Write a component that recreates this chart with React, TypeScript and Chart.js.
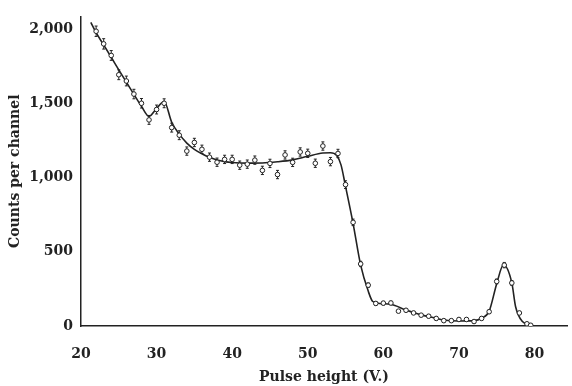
import React, { useEffect, useRef } from 'react';
import { Chart, registerables } from 'chart.js';

Chart.register(...registerables);

// Measured points (pulse height in V, counts per channel, error bar half-height)
const pulseHeights = [22, 23, 24, 25, 26, 27, 28, 29, 30, 31, 32, 33, 34, 35, 36, 37, 38, 39, 40, 41, 42, 43, 44, 45, 46, 47, 48, 49, 50, 51, 52, 53, 54, 55, 56, 57, 58, 59, 60, 61, 62, 63, 64, 65, 66, 67, 68, 69, 70, 71, 72, 73, 74, 75, 76, 77, 78, 79, 79.5];
const counts = [1985, 1900, 1822, 1692, 1650, 1562, 1500, 1388, 1458, 1500, 1336, 1285, 1178, 1236, 1190, 1137, 1103, 1122, 1122, 1083, 1090, 1117, 1048, 1095, 1020, 1152, 1102, 1172, 1163, 1096, 1212, 1107, 1162, 952, 698, 418, 275, 152, 154, 155, 100, 106, 88, 73, 66, 51, 36, 36, 44, 44, 30, 51, 96, 300, 410, 290, 88, 15, 5];
const countErrors = [35, 35, 33, 33, 33, 32, 32, 30, 30, 30, 30, 30, 28, 28, 28, 28, 28, 28, 28, 28, 28, 28, 28, 28, 28, 28, 28, 28, 28, 28, 28, 28, 28, 26, 22, 18, 15, 12, 12, 12, 10, 10, 10, 10, 10, 10, 10, 10, 10, 10, 10, 10, 12, 16, 18, 16, 10, 6, 4];

// Smooth fitted curve
const fitX = [21.3, 22, 23, 24, 25, 26, 27, 28, 29, 30, 31, 32, 33, 34, 35, 36, 37, 38, 39, 40, 42, 44, 46, 48, 50, 52, 53, 53.8, 54.4, 55, 56, 57, 58, 58.6, 59.5, 61, 63, 65, 67, 68, 70, 72, 73, 74, 75, 75.9, 77, 77.5, 78.4, 79.7];
const fitY = [2045, 1975, 1893, 1810, 1725, 1642, 1560, 1480, 1412, 1465, 1512, 1372, 1292, 1232, 1190, 1160, 1136, 1118, 1107, 1101, 1097, 1098, 1106, 1119, 1143, 1165, 1167, 1150, 1085, 940, 690, 410, 235, 165, 152, 146, 108, 75, 52, 40, 34, 36, 52, 100, 285, 412, 290, 130, 30, 2];

const xTicks = [20, 30, 40, 50, 60, 70, 80];
const yTicks = [0, 500, 1000, 1500, 2000];
const yTickLabels = ['0', '500', '1,000', '1,500', '2,000'];

const INK = '#222';
const FONT = { family: '"DejaVu Serif", "Liberation Serif", serif', size: 14, weight: 'bold' as const };

const errorBarPlugin = {
  id: 'errorBars',
  beforeDatasetDraw(chart: any, args: any) {
    if (args.index !== 0) return;
    const { ctx, scales } = chart;
    const xs = scales.x;
    const ys = scales.y;
    ctx.save();
    ctx.strokeStyle = INK;
    ctx.lineWidth = 1;
    for (let i = 0; i < pulseHeights.length; i++) {
      const px = xs.getPixelForValue(pulseHeights[i]);
      const top = ys.getPixelForValue(counts[i] + countErrors[i]);
      const bot = ys.getPixelForValue(Math.max(0, counts[i] - countErrors[i]));
      ctx.beginPath();
      ctx.moveTo(px, top);
      ctx.lineTo(px, bot);
      ctx.moveTo(px - 1.5, top);
      ctx.lineTo(px + 1.5, top);
      ctx.moveTo(px - 1.5, bot);
      ctx.lineTo(px + 1.5, bot);
      ctx.stroke();
    }
    ctx.restore();
  },
};

export default function App() {
  const canvasRef = useRef<HTMLCanvasElement | null>(null);

  useEffect(() => {
    if (!canvasRef.current) return;
    const chart = new Chart(canvasRef.current, {
      type: 'line',
      data: {
        datasets: [
          {
            label: 'Counts',
            data: pulseHeights.map((x, i) => ({ x, y: counts[i] })),
            showLine: false,
            pointRadius: 2.3,
            pointBorderWidth: 1,
            pointBorderColor: INK,
            pointBackgroundColor: '#fff',
          },
          {
            label: 'Fit',
            data: fitX.map((x, i) => ({ x, y: fitY[i] })),
            borderColor: INK,
            borderWidth: 1.6,
            pointRadius: 0,
            cubicInterpolationMode: 'monotone',
            fill: false,
          },
        ],
      },
      options: {
        responsive: false,
        animation: false,
        layout: { padding: { top: 12, left: 0, right: 0, bottom: 0 } },
        plugins: { legend: { display: false }, tooltip: { enabled: false } },
        scales: {
          x: {
            type: 'linear',
            min: 20,
            max: 84.3,
            afterBuildTicks: (s: any) => {
              s.ticks = xTicks.map((v) => ({ value: v }));
            },
            afterFit: (s: any) => {
              s.height = 60;
            },
            grid: { display: false, drawTicks: false },
            border: { display: true, color: INK, width: 1.5 },
            ticks: { color: INK, font: FONT, padding: 20, maxRotation: 0 },
            title: { display: true, text: 'Pulse height (V.)', color: INK, font: FONT, padding: { top: 0, bottom: 0 } },
          },
          y: {
            type: 'linear',
            min: 0,
            max: 2085,
            afterBuildTicks: (s: any) => {
              s.ticks = yTicks.map((v) => ({ value: v }));
            },
            afterFit: (s: any) => {
              s.width = 81;
            },
            grid: { display: false, drawTicks: false },
            border: { display: true, color: INK, width: 1.5 },
            ticks: {
              color: INK,
              font: FONT,
              padding: 8,
              callback: (v: any) => {
                const i = yTicks.indexOf(Number(v));
                return i >= 0 ? yTickLabels[i] : '';
              },
            },
            title: { display: true, text: 'Counts per channel', color: INK, font: FONT, padding: { top: 7, bottom: 0 } },
          },
        },
      },
      plugins: [errorBarPlugin],
    });
    return () => chart.destroy();
  }, []);

  return (
    <div style={{ position: 'absolute', left: 0, top: 0, width: 572, height: 386, background: '#fff' }}>
      <canvas ref={canvasRef} width={572} height={386} style={{ display: 'block' }} />
    </div>
  );
}
